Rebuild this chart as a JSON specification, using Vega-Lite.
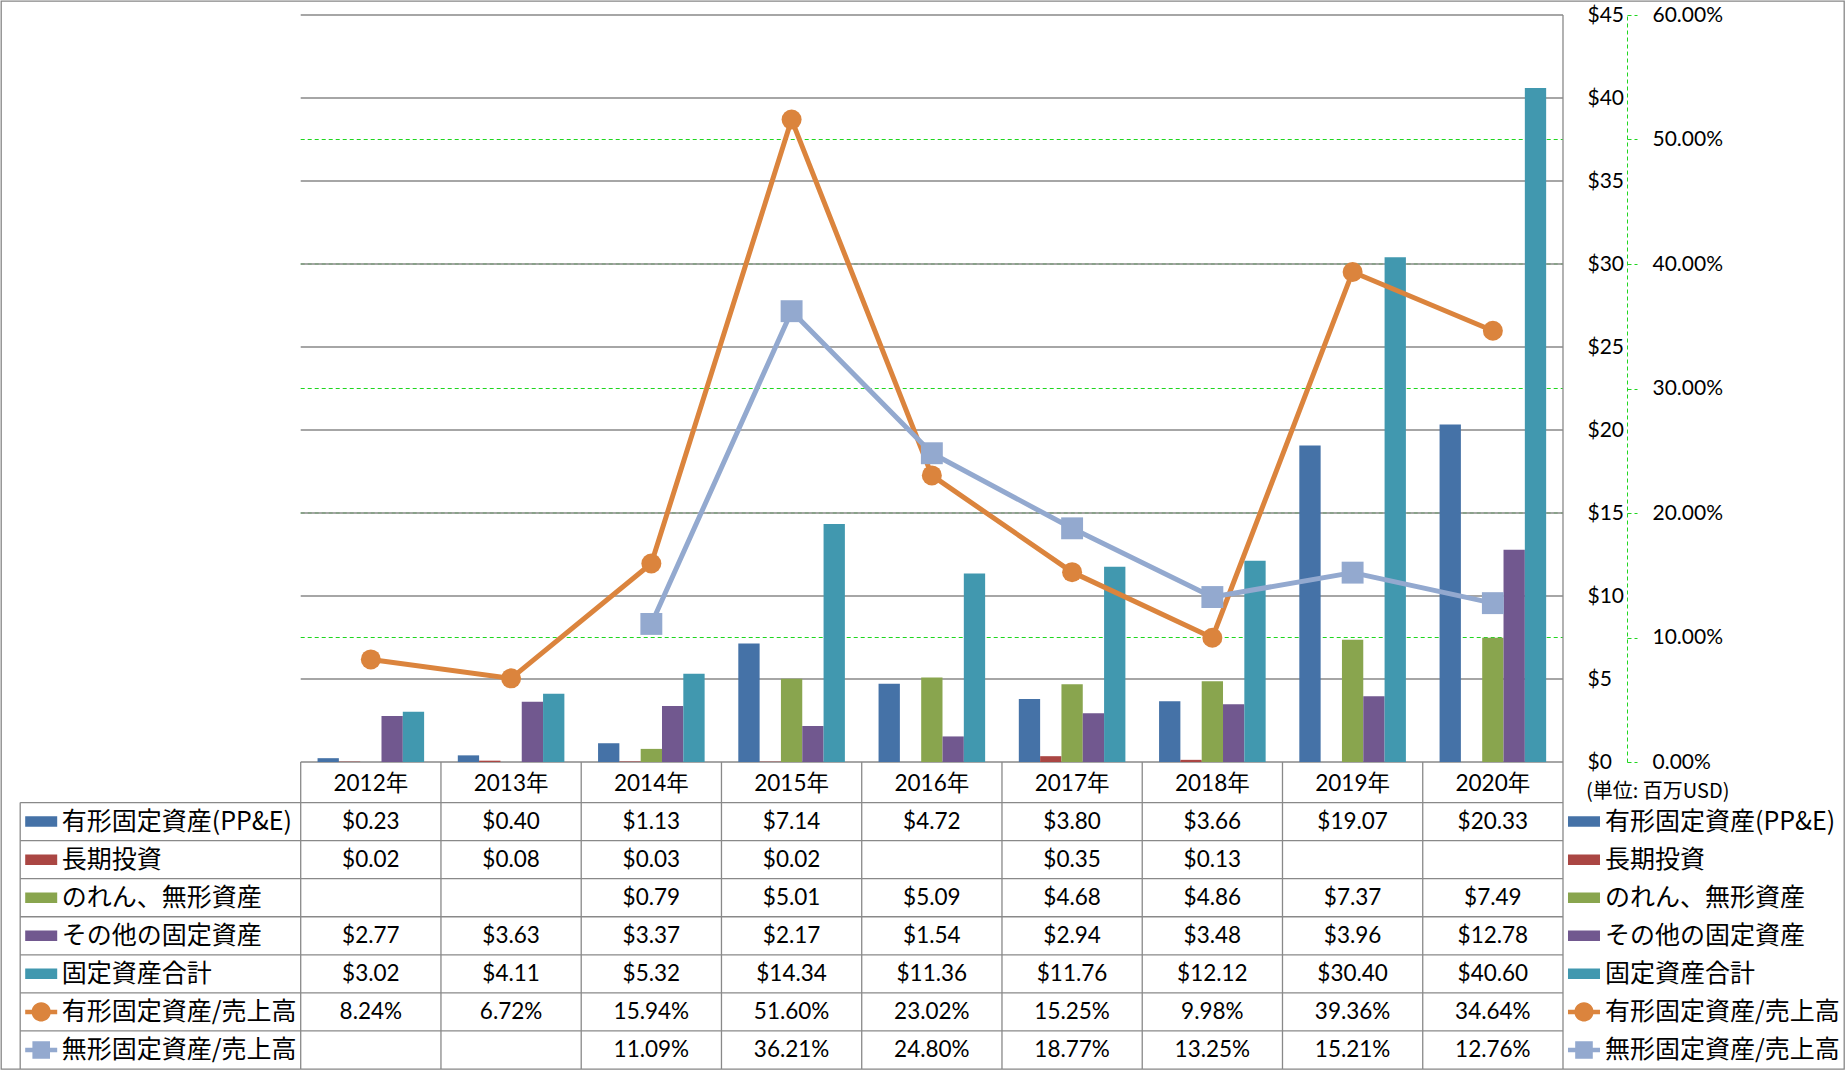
{
"$schema":"https://vega.github.io/schema/vega-lite/v6.json",
"width":1843,"height":1068,
"autosize":{"type":"none"},
"padding":{"left":1,"top":1,"right":3,"bottom":2},
"background":"white",
"config":{"view":{"stroke":"#868686","strokeWidth":1.3},"font":"Lato, Noto Sans CJK JP","text":{"color":"#000"}},
"datasets":{
"d":[
{"year":"2012年","series":"有形固定資産(PP&E)","value":0.23},
{"year":"2013年","series":"有形固定資産(PP&E)","value":0.40},
{"year":"2014年","series":"有形固定資産(PP&E)","value":1.13},
{"year":"2015年","series":"有形固定資産(PP&E)","value":7.14},
{"year":"2016年","series":"有形固定資産(PP&E)","value":4.72},
{"year":"2017年","series":"有形固定資産(PP&E)","value":3.80},
{"year":"2018年","series":"有形固定資産(PP&E)","value":3.66},
{"year":"2019年","series":"有形固定資産(PP&E)","value":19.07},
{"year":"2020年","series":"有形固定資産(PP&E)","value":20.33},
{"year":"2012年","series":"長期投資","value":0.02},
{"year":"2013年","series":"長期投資","value":0.08},
{"year":"2014年","series":"長期投資","value":0.03},
{"year":"2015年","series":"長期投資","value":0.02},
{"year":"2016年","series":"長期投資","value":null},
{"year":"2017年","series":"長期投資","value":0.35},
{"year":"2018年","series":"長期投資","value":0.13},
{"year":"2019年","series":"長期投資","value":null},
{"year":"2020年","series":"長期投資","value":null},
{"year":"2012年","series":"のれん、無形資産","value":null},
{"year":"2013年","series":"のれん、無形資産","value":null},
{"year":"2014年","series":"のれん、無形資産","value":0.79},
{"year":"2015年","series":"のれん、無形資産","value":5.01},
{"year":"2016年","series":"のれん、無形資産","value":5.09},
{"year":"2017年","series":"のれん、無形資産","value":4.68},
{"year":"2018年","series":"のれん、無形資産","value":4.86},
{"year":"2019年","series":"のれん、無形資産","value":7.37},
{"year":"2020年","series":"のれん、無形資産","value":7.49},
{"year":"2012年","series":"その他の固定資産","value":2.77},
{"year":"2013年","series":"その他の固定資産","value":3.63},
{"year":"2014年","series":"その他の固定資産","value":3.37},
{"year":"2015年","series":"その他の固定資産","value":2.17},
{"year":"2016年","series":"その他の固定資産","value":1.54},
{"year":"2017年","series":"その他の固定資産","value":2.94},
{"year":"2018年","series":"その他の固定資産","value":3.48},
{"year":"2019年","series":"その他の固定資産","value":3.96},
{"year":"2020年","series":"その他の固定資産","value":12.78},
{"year":"2012年","series":"固定資産合計","value":3.02},
{"year":"2013年","series":"固定資産合計","value":4.11},
{"year":"2014年","series":"固定資産合計","value":5.32},
{"year":"2015年","series":"固定資産合計","value":14.34},
{"year":"2016年","series":"固定資産合計","value":11.36},
{"year":"2017年","series":"固定資産合計","value":11.76},
{"year":"2018年","series":"固定資産合計","value":12.12},
{"year":"2019年","series":"固定資産合計","value":30.40},
{"year":"2020年","series":"固定資産合計","value":40.60},
{"year":"2012年","series":"有形固定資産/売上高","value":0.0824},
{"year":"2013年","series":"有形固定資産/売上高","value":0.0672},
{"year":"2014年","series":"有形固定資産/売上高","value":0.1594},
{"year":"2015年","series":"有形固定資産/売上高","value":0.5160},
{"year":"2016年","series":"有形固定資産/売上高","value":0.2302},
{"year":"2017年","series":"有形固定資産/売上高","value":0.1525},
{"year":"2018年","series":"有形固定資産/売上高","value":0.0998},
{"year":"2019年","series":"有形固定資産/売上高","value":0.3936},
{"year":"2020年","series":"有形固定資産/売上高","value":0.3464},
{"year":"2012年","series":"無形固定資産/売上高","value":null},
{"year":"2013年","series":"無形固定資産/売上高","value":null},
{"year":"2014年","series":"無形固定資産/売上高","value":0.1109},
{"year":"2015年","series":"無形固定資産/売上高","value":0.3621},
{"year":"2016年","series":"無形固定資産/売上高","value":0.2480},
{"year":"2017年","series":"無形固定資産/売上高","value":0.1877},
{"year":"2018年","series":"無形固定資産/売上高","value":0.1325},
{"year":"2019年","series":"無形固定資産/売上高","value":0.1521},
{"year":"2020年","series":"無形固定資産/売上高","value":0.1276}
],
"grid":[{"v":0},{"v":5},{"v":10},{"v":15},{"v":20},{"v":25},{"v":30},{"v":35},{"v":40},{"v":45}],
"pgrid":[{"p":0.1},{"p":0.2},{"p":0.3},{"p":0.4},{"p":0.5}]
},
"data":{"name":"d"},
"layer":[
{"data":{"name":"pgrid"},
 "mark":{"type":"rule","stroke":"#1FD61F","strokeWidth":1,"strokeDash":[4,3]},
 "encoding":{
  "x":{"datum":"2012年","bandPosition":0,"axis":null,"scale":{"type":"band","domain":["_L1","_L2","2012年","2013年","2014年","2015年","2016年","2017年","2018年","2019年","2020年","_R1","_R2"],"range":[19.2,1842.5],"paddingInner":0,"paddingOuter":0}},
  "x2":{"datum":"_R1","bandPosition":0},
  "y":{"field":"p","type":"quantitative","axis":null,"scale":{"type":"linear","domain":[0,0.6],"range":[761,14],"nice":false,"zero":false}}}},
{"layer":[
 {"data":{"name":"grid"},
  "mark":{"type":"rule","stroke":"#898989","strokeWidth":1.3},
  "encoding":{
   "x":{"datum":"2012年","bandPosition":0,"axis":null},
   "x2":{"datum":"_R1","bandPosition":0},
   "y":{"field":"v","type":"quantitative","scale":{"type":"linear","domain":[0,45],"range":[761,14],"nice":false,"zero":false},
        "axis":{"orient":"right","offset":-281,"domain":false,"ticks":false,"tickSize":0,"grid":false,"labelPadding":24,"values":[0,5,10,15,20,25,30,35,40,45],"format":"$.0f","labelFont":"Lato","labelFontSize":21,"labelColor":"#000","labelAlign":"left","title":null}}}},
 {"data":{"name":"grid"},"transform":[{"filter":"datum.v == 45"}],
  "mark":{"type":"rule","stroke":"#898989","strokeWidth":1.3},
  "encoding":{
   "x":{"datum":"_R1","bandPosition":0,"axis":null},
   "y":{"datum":45,"type":"quantitative"},
   "y2":{"datum":0}}},
 {"transform":[{"filter":{"field":"series","oneOf":["有形固定資産(PP&E)","長期投資","のれん、無形資産","その他の固定資産","固定資産合計"]}},{"filter":"datum.value != null"}],
  "mark":{"type":"bar"},
  "encoding":{
   "x":{"field":"year","type":"nominal","axis":null},
   "xOffset":{"field":"series","type":"nominal","scale":{"domain":["有形固定資産(PP&E)","長期投資","のれん、無形資産","その他の固定資産","固定資産合計"],"paddingInner":0,"paddingOuter":0.79}},
   "y":{"field":"value","type":"quantitative","stack":null},
   "color":{"field":"series","type":"nominal","legend":null,"scale":{"domain":["有形固定資産(PP&E)","長期投資","のれん、無形資産","その他の固定資産","固定資産合計","有形固定資産/売上高","無形固定資産/売上高"],"range":["#4572A7","#AA4643","#89A54E","#71588F","#4198AF","#DB843D","#93A9CF"]}}}}
]},
{"layer":[
 {"transform":[{"filter":"datum.series == '有形固定資産(PP&E)'"}],
  "mark":{"type":"text","fontSize":22.5,"font":"Lato, Noto Sans CJK JP","baseline":"middle","align":"center"},
  "encoding":{
   "x":{"field":"year","type":"nominal","axis":null},
   "y":{"datum":"_hdr","axis":null,"scale":{"type":"band","domain":["_hdr","有形固定資産(PP&E)","長期投資","のれん、無形資産","その他の固定資産","固定資産合計","有形固定資産/売上高","無形固定資産/売上高"],"range":[763.5,1068],"paddingInner":0,"paddingOuter":0}},
   "text":{"field":"year"}}},
 {"transform":[{"filter":{"field":"series","oneOf":["有形固定資産(PP&E)","長期投資","のれん、無形資産","その他の固定資産","固定資産合計"]}},{"filter":"datum.value != null"}],
  "mark":{"type":"text","fontSize":22.5,"font":"Lato","baseline":"middle","align":"center"},
  "encoding":{
   "x":{"field":"year","type":"nominal","axis":null},
   "y":{"field":"series","type":"nominal","axis":null},
   "text":{"field":"value","type":"quantitative","format":"$.2f"}}},
 {"transform":[{"filter":{"field":"series","oneOf":["有形固定資産/売上高","無形固定資産/売上高"]}},{"filter":"datum.value != null"}],
  "mark":{"type":"text","fontSize":22.5,"font":"Lato","baseline":"middle","align":"center"},
  "encoding":{
   "x":{"field":"year","type":"nominal","axis":null},
   "y":{"field":"series","type":"nominal","axis":null},
   "text":{"field":"value","type":"quantitative","format":".2%"}}},
 {"transform":[{"filter":"datum.year == '2012年'"}],
  "mark":{"type":"rule","stroke":"#898989","strokeWidth":1.3},
  "encoding":{
   "x":{"datum":"_L1","bandPosition":0,"axis":null},
   "x2":{"datum":"_R1","bandPosition":0},
   "y":{"field":"series","type":"nominal","bandPosition":0,"axis":null}}},
 {"transform":[{"filter":"datum.series == '有形固定資産(PP&E)'"}],
  "mark":{"type":"rule","stroke":"#898989","strokeWidth":1.3,"yOffset":-2.5},
  "encoding":{
   "x":{"field":"year","type":"nominal","bandPosition":0,"axis":null},
   "y":{"datum":"_hdr","bandPosition":0,"axis":null},
   "y2":{"datum":"無形固定資産/売上高","bandPosition":1}}},
 {"transform":[{"filter":"datum.series == '有形固定資産(PP&E)' && datum.year == '2012年'"}],
  "mark":{"type":"rule","stroke":"#898989","strokeWidth":1.3,"yOffset":-2.5},
  "encoding":{
   "x":{"datum":"_R1","bandPosition":0,"axis":null},
   "y":{"datum":"_hdr","bandPosition":0,"axis":null},
   "y2":{"datum":"無形固定資産/売上高","bandPosition":1}}},
 {"transform":[{"filter":"datum.series == '有形固定資産(PP&E)' && datum.year == '2012年'"}],
  "mark":{"type":"rule","stroke":"#898989","strokeWidth":1.3},
  "encoding":{
   "x":{"datum":"_L1","bandPosition":0,"axis":null},
   "y":{"datum":"有形固定資産(PP&E)","bandPosition":0,"axis":null},
   "y2":{"datum":"無形固定資産/売上高","bandPosition":1}}},
 {"transform":[{"filter":"datum.year == '2012年'"}],
  "mark":{"type":"point","filled":true,"opacity":1,"size":1024,"xOffset":21,"strokeWidth":0},
  "encoding":{
   "x":{"datum":"_L1","bandPosition":0,"axis":null},
   "y":{"field":"series","type":"nominal","axis":null},
   "color":{"field":"series","type":"nominal","legend":null},
   "shape":{"field":"series","type":"nominal","legend":null,"scale":{"domain":["有形固定資産(PP&E)","長期投資","のれん、無形資産","その他の固定資産","固定資産合計","有形固定資産/売上高","無形固定資産/売上高"],"range":["M-1,-0.33H1V0.33H-1Z","M-1,-0.33H1V0.33H-1Z","M-1,-0.33H1V0.33H-1Z","M-1,-0.33H1V0.33H-1Z","M-1,-0.33H1V0.33H-1Z","M-1,-0.14H1V0.14H-1Z M0.6,0A0.6,0.6 0 1,1 -0.6,0A0.6,0.6 0 1,1 0.6,0Z","M-1,-0.14H1V0.14H-1Z M-0.55,-0.55H0.55V0.55H-0.55Z"]}}}},
 {"transform":[{"filter":"datum.year == '2012年'"}],
  "mark":{"type":"text","fontSize":25,"font":"Noto Sans CJK JP","baseline":"middle","align":"left","dx":41.5},
  "encoding":{
   "x":{"datum":"_L1","bandPosition":0,"axis":null},
   "y":{"field":"series","type":"nominal","axis":null},
   "text":{"field":"series"}}},
 {"transform":[{"filter":"datum.year == '2012年'"}],
  "mark":{"type":"point","filled":true,"opacity":1,"size":1024,"xOffset":21,"strokeWidth":0},
  "encoding":{
   "x":{"datum":"_R1","bandPosition":0,"axis":null},
   "y":{"field":"series","type":"nominal","axis":null},
   "color":{"field":"series","type":"nominal","legend":null},
   "shape":{"field":"series","type":"nominal","legend":null}}},
 {"transform":[{"filter":"datum.year == '2012年'"}],
  "mark":{"type":"text","fontSize":25,"font":"Noto Sans CJK JP","baseline":"middle","align":"left","dx":42},
  "encoding":{
   "x":{"datum":"_R1","bandPosition":0,"axis":null},
   "y":{"field":"series","type":"nominal","axis":null},
   "text":{"field":"series"}}},
 {"transform":[{"filter":"datum.series == '有形固定資産(PP&E)' && datum.year == '2012年'"}],
  "mark":{"type":"text","fontSize":20,"font":"Noto Sans CJK JP","baseline":"middle","align":"left","dx":23,"dy":8},
  "encoding":{
   "x":{"datum":"_R1","bandPosition":0,"axis":null},
   "y":{"datum":"_hdr","axis":null},
   "text":{"value":"(単位: 百万USD)"}}}
]},
{"layer":[
 {"transform":[{"filter":{"field":"series","oneOf":["有形固定資産/売上高","無形固定資産/売上高"]}},{"filter":"datum.value != null"}],
  "mark":{"type":"line","strokeWidth":5,"strokeJoin":"round","strokeCap":"round"},
  "encoding":{
   "x":{"field":"year","type":"nominal","axis":null},
   "y":{"field":"value","type":"quantitative","scale":{"type":"linear","domain":[0,0.6],"range":[761,14],"nice":false,"zero":false},
        "axis":{"orient":"right","offset":-217,"domain":true,"domainColor":"#1FD61F","domainDash":[4,3],"domainWidth":1,"ticks":true,"tickColor":"#1FD61F","tickDash":[4,3],"tickSize":10,"tickWidth":1,"labelPadding":15,"values":[0,0.1,0.2,0.3,0.4,0.5,0.6],"format":".2%","labelFont":"Lato","labelFontSize":21,"labelColor":"#000","labelAlign":"left","grid":false,"title":null}},
   "color":{"field":"series","type":"nominal","legend":null}}},
 {"transform":[{"filter":"datum.series == '有形固定資産/売上高'"}],
  "mark":{"type":"point","shape":"circle","filled":true,"opacity":1,"size":400},
  "encoding":{
   "x":{"field":"year","type":"nominal","axis":null},
   "y":{"field":"value","type":"quantitative"},
   "color":{"field":"series","type":"nominal","legend":null}}},
 {"transform":[{"filter":"datum.series == '無形固定資産/売上高' && datum.value != null"}],
  "mark":{"type":"point","shape":"square","filled":true,"opacity":1,"size":480},
  "encoding":{
   "x":{"field":"year","type":"nominal","axis":null},
   "y":{"field":"value","type":"quantitative"},
   "color":{"field":"series","type":"nominal","legend":null}}}
]}
],
"resolve":{"scale":{"y":"independent"}}
}
